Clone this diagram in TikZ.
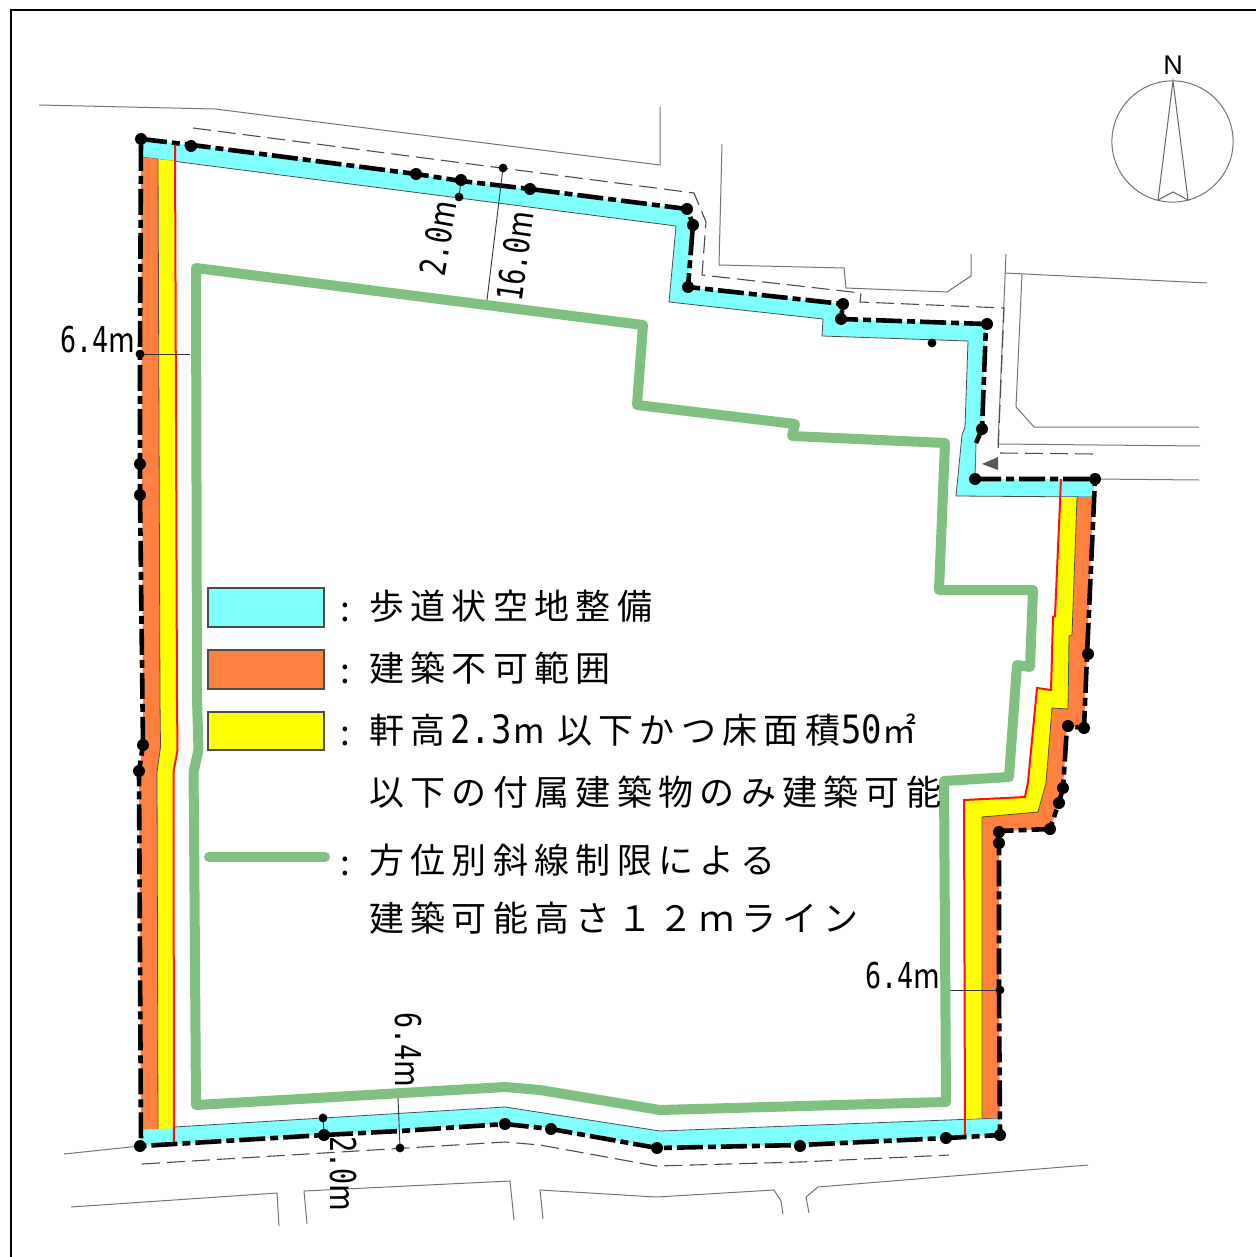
\documentclass[tikz,border=0pt]{standalone}
\usepackage{graphicx}
\usepackage{fontspec}
\newfontfamily\cjk{Noto Sans CJK JP}
\newfontfamily\cjkls[LetterSpace=18]{Noto Sans CJK JP}
\newfontfamily\dejamono{DejaVu Sans Mono}
\newfontfamily\nsans{Liberation Sans}
\definecolor{walkc}{HTML}{80FFFF}
\definecolor{orangec}{HTML}{FF8040}
\definecolor{yellowc}{HTML}{FFFF00}
\definecolor{greenc}{HTML}{80C080}
\definecolor{redc}{HTML}{FF1010}
% legend digits / dimension text
\newcommand\lgddg[1]{\scalebox{.87}[1]{\dejamono\fontsize{19.5}{22}\selectfont #1}}
\newcommand\lgdm[1]{{\cjk\fontsize{17}{20}\selectfont #1}}
\newcommand\seg[2]{\makebox[#1pt][l]{#2}}
\newcommand\dimtxt[1]{\scalebox{.75}[1]{\dejamono\fontsize{17.8}{20}\selectfont #1}\scalebox{.85}[1]{\cjk\fontsize{17}{20}\selectfont m}}
\tikzset{
  thinline/.style={draw=black!55,line width=0.5pt},
  dashline/.style={draw=black!70,line width=0.55pt,dash pattern=on 9pt off 3.5pt},
  edgeline/.style={draw=black!70,line width=0.4pt},
  boundary/.style={draw=black,line width=2.3pt,dash pattern=on 13pt off 2.5pt on 4pt off 2.5pt},
  limitline/.style={draw=greenc,line width=5pt,line join=round,line cap=round},
  redline/.style={draw=redc,line width=1pt},
  legendbox/.style={draw=black!70,line width=0.6pt},
  lgdtext/.style={anchor=base west,inner sep=0pt,font=\cjkls\fontsize{17.5}{20}\selectfont},
  dimlabel/.style={inner sep=0pt},
  dimline/.style={draw=black!80,line width=0.45pt}
}
\begin{document}
\begin{tikzpicture}[x=0.5pt,y=-0.5pt]
\useasboundingbox (0,0) rectangle (1256,1257);
% frame
\draw[black,line width=0.9pt] (11,1257) -- (11,10) -- (1256,10);
% context lines
\draw[thinline] (39,105) -- (215,109) -- (660,165) -- (660,107);
\draw[thinline] (722,144) -- (719,265) -- (844,268) -- (846,288) -- (947,292) -- (971,276) -- (971,254);
\draw[thinline] (1006,254) -- (998,444) -- (1200,446);
\draw[thinline] (1005,273) -- (1207,283);
\draw[thinline] (1022,274) -- (1016,407) -- (1034,427) -- (1199,427);
\draw[thinline] (1095,479) -- (1199,480);
\draw[thinline] (64,1154) -- (140,1146);
\draw[thinline] (71,1207) -- (277,1193) -- (279,1226);
\draw[thinline] (307,1224) -- (304,1191) -- (510,1181) -- (514,1220);
\draw[thinline] (543,1219) -- (540,1190) -- (656,1197) -- (774,1190) -- (781,1201) -- (783,1214);
\draw[thinline] (809,1213) -- (806,1197) -- (818,1187) -- (1088,1165);
% dashed lines
\draw[dashline] (193,128) -- (694,193) -- (706,222) -- (702,275) -- (861,293) -- (860,302) -- (1004,308) -- (998,453) -- (1096,454);
\draw[dashline] (142,1164) -- (505,1142) -- (540,1145) -- (656,1166) -- (800,1162) -- (949,1155);
% walkway
\fill[walkc] (141,139) -- (192,145) -- (416,174) -- (461,181) -- (530,189) -- (687,209) -- (693,224) -- (688,287) -- (843,304) -- (841,319) -- (986,324) -- (982,429) -- (976,443) -- (975,479) -- (1095,479) -- (1093,497) -- (956,496) -- (962,435) -- (965,427) -- (968,341) -- (822,336) -- (823,319) -- (669,302) -- (676,226) -- (141,157) -- cycle;
\draw[edgeline] (141,157) -- (676,226) -- (669,302) -- (823,319) -- (822,336) -- (968,341) -- (965,427) -- (962,435) -- (956,496) -- (1093,497);
\fill[walkc] (141,1129) -- (505,1107) -- (660,1131) -- (1000,1118) -- (1000,1135) -- (947,1138) -- (800,1145) -- (657,1148) -- (551,1129) -- (505,1124) -- (141,1146) -- cycle;
\draw[edgeline] (141,1129) -- (505,1107) -- (660,1131) -- (1000,1118);
% west strip
\fill[orangec] (141,157) -- (158,159) -- (160,700) -- (160.5,747) -- (157,772) -- (158,1129) -- (141,1129) -- (139,771) -- (143,745) -- cycle;
\fill[yellowc] (158,159) -- (175,161) -- (177,700) -- (177.5,750) -- (173.5,772) -- (174,1128) -- (158,1129) -- (157,772) -- (160.5,747) -- (160,700) -- cycle;
\draw[edgeline] (158,159) -- (160,700) -- (160.5,747) -- (157,772) -- (158,1129);
\draw[redline] (175,143) -- (177,700) -- (177.5,750) -- (173.5,772) -- (174,1145);
% east strip
\fill[orangec] (1077,497) -- (1093,497) -- (1087,655) -- (1084,728) -- (1067,726) -- (1063,788) -- (1059,802) -- (1050,829) -- (999,831) -- (999,990) -- (1000,1118) -- (982,1118) -- (982,817) -- (1038,812) -- (1046,783) -- (1052,708) -- (1068,709) -- (1069,636) -- (1072,635) -- cycle;
\fill[yellowc] (1060,497) -- (1077,497) -- (1072,635) -- (1069,636) -- (1068,709) -- (1052,708) -- (1046,783) -- (1038,812) -- (982,817) -- (982,1118) -- (964,1119) -- (964,800) -- (1025,797) -- (1028,782) -- (1037,688) -- (1051,690) -- (1053,617) -- (1055,616) -- cycle;
\draw[edgeline] (1077,497) -- (1072,635) -- (1069,636) -- (1068,709) -- (1052,708) -- (1046,783) -- (1038,812) -- (982,817) -- (982,1118);
\draw[redline] (1061,479) -- (1055,616) -- (1053,617) -- (1051,690) -- (1037,688) -- (1028,782) -- (1025,797) -- (964,800) -- (965,1137);
% small street marks
\draw[thinline] (976,443) -- (975,479);
\fill[black!65] (982,464) -- (998,457) -- (998,470) -- cycle;
% site boundary
\draw[boundary] (141,139) -- (192,145) -- (416,174) -- (461,181) -- (530,189) -- (687,209) -- (693,224) -- (688,287) -- (843,304) -- (841,319) -- (986,324) -- (982,429) -- (976,443);
\draw[boundary] (975,479) -- (1095,479) -- (1087,655) -- (1084,728) -- (1067,726) -- (1063,788) -- (1059,802) -- (1050,829) -- (999,831) -- (999,843) -- (999,990) -- (1000,1135) -- (947,1138) -- (800,1145) -- (657,1148) -- (551,1129) -- (505,1124) -- (400,1131) -- (324,1135) -- (141,1146) -- (139,771) -- (143,745) -- (140,495) -- (140,464) -- (140,353) -- (141,139);
% dimension lines
\draw[dimline] (141,354) -- (190,354);
\draw[dimline] (945,990) -- (1000,990);
\draw[dimline] (398,1097) -- (400,1148);
\draw[dimline] (323,1118) -- (324,1135);
\draw[dimline] (461,181) -- (459,197);
\draw[dimline] (503,168) -- (487,300);
% points
\foreach \px/\py in {141/139,191/146,416/174,461/180,530/189,687/209,693/225,688/287,843/304,841/319,987/324,982/429,975/479,1095/479,1088/654,1084/728,1068/726,1063/788,1059/803,1050/829,999/832,999/843,1000/1135,946/1138,800/1146,657/1148,551/1129,505/1124,324/1135,140/1146,139/771,143/745,140/495,140/464}
  \fill[black] (\px,\py) circle [radius=3pt];
\foreach \px/\py in {140/354,323/1118,459/197,503/168,400/1148,1000/990,932/343}
  \fill[black] (\px,\py) circle [radius=2.2pt];
% building limit line
\draw[limitline] (196,268) -- (643,325) -- (637,405) -- (795,424) -- (792,436) -- (945,443) -- (939,590) -- (1033,590) -- (1030,667) -- (1017,665) -- (1009,777) -- (944,781) -- (946,1102) -- (660,1110) -- (540,1090) -- (505,1087) -- (196,1105) -- (194,820) -- (193.5,772) -- (198.5,750) -- (197,700) -- cycle;
% north mark
\draw[draw=black!55,line width=0.5pt] (1172.5,141.5) circle [radius=30.3pt];
\draw[draw=black!60,line width=0.5pt] (1173,81) -- (1158,200) -- (1173,192) -- (1188,200) -- cycle;
\node[inner sep=0pt,font=\nsans\fontsize{13.5}{16}\selectfont] (north) at (1173,65) {N};
% legend
\draw[legendbox,fill=walkc] (208,588) rectangle (324,627);
\draw[legendbox,fill=orangec] (208,650) rectangle (324,689);
\draw[legendbox,fill=yellowc] (208,712) rectangle (324,750);
\draw[limitline] (209,857) -- (325,857);
\node[lgdtext] (c1) at (340,621) {:};
\node[lgdtext] (c2) at (340,683) {:};
\node[lgdtext] (c3) at (340,745) {:};
\node[lgdtext] (c4) at (340,875) {:};
\node[lgdtext] (t1) at (369,619) {歩道状空地整備};
\node[lgdtext] (t2) at (369,681) {建築不可範囲};
\node[lgdtext] (t3) at (369,743) {\seg{40.5}{軒高}\seg{53.5}{\lgddg{2.3}\lgdm{\kern1pt m}}\seg{142}{以下かつ床面積}\lgddg{50}\lgdm{㎡}};
\node[lgdtext] (t4) at (369,805) {以下の付属建築物のみ建築可能};
\node[lgdtext] (t5) at (369,873) {方位別斜線制限による};
\node[lgdtext] (t6) at (369,931) {建築可能高さ１２ｍライン};
% dimension labels
\node[dimlabel,anchor=base west] (d1) at (60,352) {\dimtxt{6.4}};
\node[dimlabel,anchor=base west] (d2) at (865,988) {\dimtxt{6.4}};
\node[dimlabel,rotate=-90] (d3) at (408,1050) {\dimtxt{6.4}};
\node[dimlabel,rotate=-90] (d4) at (343,1174) {\dimtxt{2.0}};
\node[dimlabel,rotate=80] (d5) at (438,238) {\dimtxt{2.0}};
\node[dimlabel,rotate=82] (d6) at (515,256) {\dimtxt{16.0}};
\end{tikzpicture}
\end{document}
